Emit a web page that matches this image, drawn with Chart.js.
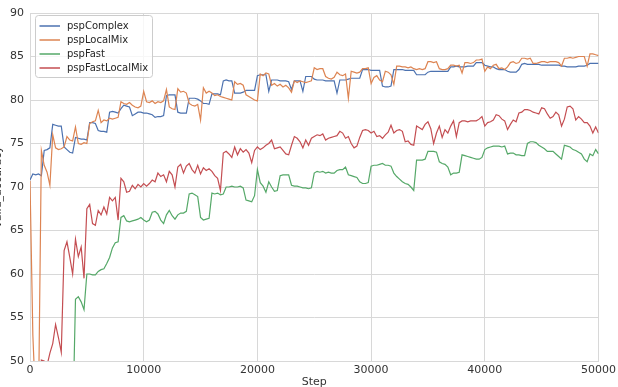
<!DOCTYPE html>
<html>
<head>
<meta charset="utf-8">
<script src="https://cdn.jsdelivr.net/npm/chart.js@4.4.1/dist/chart.umd.min.js"></script>
<style>
html,body{margin:0;padding:0;background:#fff}
#wrap{position:relative;width:618px;height:387px;overflow:hidden}
#c{position:absolute;left:-10px;top:0}
</style>
</head>
<body>
<div id="wrap"><canvas id="c" width="629" height="389" style="width:629px;height:389px"></canvas></div>
<script>
const steps=[
0,250,500,750,1000,1250,1500,1750,2000,2250,2500,2750,3000,3250,3500,3750,4000,4250,4500,4750,
5000,5250,5500,5750,6000,6250,6500,6750,7000,7250,7500,7750,8000,8250,8500,8750,9000,9250,9500,9750,
10000,10250,10500,10750,11000,11250,11500,11750,12000,12250,12500,12750,13000,13250,13500,13750,14000,14250,14500,14750,
15000,15250,15500,15750,16000,16250,16500,16750,17000,17250,17500,17750,18000,18250,18500,18750,19000,19250,19500,19750,
20000,20250,20500,20750,21000,21250,21500,21750,22000,22250,22500,22750,23000,23250,23500,23750,24000,24250,24500,24750,
25000,25250,25500,25750,26000,26250,26500,26750,27000,27250,27500,27750,28000,28250,28500,28750,29000,29250,29500,29750,
30000,30250,30500,30750,31000,31250,31500,31750,32000,32250,32500,32750,33000,33250,33500,33750,34000,34250,34500,34750,
35000,35250,35500,35750,36000,36250,36500,36750,37000,37250,37500,37750,38000,38250,38500,38750,39000,39250,39500,39750,
40000,40250,40500,40750,41000,41250,41500,41750,42000,42250,42500,42750,43000,43250,43500,43750,44000,44250,44500,44750,
45000,45250,45500,45750,46000,46250,46500,46750,47000,47250,47500,47750,48000,48250,48500,48750,49000,49250,49500,49750,
50000]

const pspComplex=[
70.8,71.5,71.4,71.5,71.3,74.2,74.3,74.5,77.2,77.1,77.0,77.0,74.6,74.3,74.0,73.9,75.7,75.6,75.5,75.5,
75.4,77.4,77.4,77.3,76.5,76.4,76.4,76.3,78.6,78.7,78.6,78.5,79.0,79.4,79.3,79.2,78.2,78.4,78.6,78.6,
78.5,78.5,78.4,78.3,78.0,78.1,78.1,78.2,80.5,80.6,80.6,80.6,78.6,78.5,78.5,78.5,80.2,80.2,80.2,80.1,
79.9,79.6,79.6,79.5,80.7,80.7,80.7,80.6,82.2,82.3,82.2,82.2,80.8,80.8,80.8,80.9,81.1,81.1,81.1,81.1,
82.8,82.9,82.9,82.9,81.0,82.3,82.3,82.3,82.2,82.2,82.2,82.1,81.2,82.2,82.2,82.2,81.0,82.7,82.7,82.7,
82.4,82.3,82.3,82.3,82.2,82.2,82.2,82.2,80.8,82.3,82.3,82.3,82.4,82.5,82.5,82.5,82.5,83.5,83.5,83.5,
83.4,83.4,83.4,83.4,81.6,81.5,81.5,81.6,83.5,83.5,83.5,83.5,83.4,83.4,83.4,83.4,82.9,82.9,82.9,82.9,
83.2,83.3,83.3,83.3,83.3,83.3,83.3,83.3,83.8,83.8,83.9,83.8,83.8,83.8,83.9,83.9,83.9,84.3,84.3,84.3,
84.0,83.9,83.8,83.8,83.6,83.5,83.5,83.5,83.3,83.2,83.2,83.2,83.5,84.1,84.2,84.1,84.1,84.1,84.1,84.1,
84.0,84.0,84.0,84.0,84.0,84.0,84.0,83.9,83.9,83.8,83.8,83.8,83.8,83.9,83.9,83.9,84.0,84.2,84.2,84.2,
84.2]

const pspLocalMix=[
70.7,53.0,45.0,45.0,74.2,72.5,71.7,70.2,76.0,74.5,74.3,74.4,74.6,75.8,75.4,75.3,76.9,75.0,74.9,75.1,
75.0,77.3,77.5,77.6,78.8,77.4,77.7,77.6,77.9,77.8,77.9,78.0,79.8,79.6,79.5,79.7,79.4,79.2,79.1,79.3,
81.0,79.8,79.7,79.9,79.6,79.8,79.7,79.9,81.2,79.2,79.0,78.9,81.3,80.9,81.0,80.8,79.6,79.4,79.3,79.5,
77.7,81.4,80.8,81.0,80.8,80.5,80.6,80.4,80.3,80.2,80.1,80.0,82.1,81.8,81.9,81.7,80.6,80.4,80.2,80.0,
79.9,83.0,82.8,83.1,83.0,81.7,81.9,81.6,81.8,81.5,81.7,81.4,80.9,82.2,82.0,82.2,82.1,82.0,82.1,82.2,
83.7,83.5,83.6,83.6,82.7,82.5,82.4,82.6,83.2,82.9,82.8,83.0,80.2,83.3,83.2,83.1,83.2,83.6,83.6,83.7,
81.9,82.6,82.8,82.3,82.1,83.3,83.2,82.9,81.8,83.9,83.9,83.8,83.8,83.7,83.8,83.6,83.5,83.6,83.5,83.6,
84.4,84.4,84.3,84.4,83.6,83.5,83.5,83.6,84.0,84.0,83.9,84.0,83.1,84.3,84.3,84.2,84.3,84.6,84.6,84.7,
83.3,83.8,83.6,84.0,84.1,83.6,83.7,83.5,83.8,84.3,84.4,84.2,84.3,84.8,84.8,84.7,84.8,84.2,84.2,84.3,
84.4,84.4,84.3,84.4,84.4,84.4,84.3,83.9,84.8,84.8,84.9,84.8,84.9,85.0,85.0,85.0,83.9,85.3,85.3,85.2,
85.1]

const pspFast=[
40,40,40,40,40,40,40,40,40,40,40,40,40,40,40,42,57.1,57.4,56.8,55.9,
60.0,60.0,59.9,59.9,60.3,60.5,60.6,61.2,61.9,63.0,63.6,63.7,66.5,66.7,66.1,66.0,66.1,66.2,66.3,66.5,
66.2,66.0,66.2,67.1,67.2,66.9,66.2,65.8,66.8,67.3,66.7,66.3,66.8,67.0,67.0,67.2,69.2,69.3,69.1,68.9,
66.5,66.2,66.3,66.4,69.3,69.2,69.3,69.1,69.2,70.0,70.0,70.1,70.0,70.0,70.1,69.9,68.5,68.4,68.3,69.0,
72.0,70.5,70.1,69.4,70.6,70.0,69.5,69.6,71.3,71.4,71.4,71.4,70.2,70.1,70.1,70.0,69.9,69.9,69.8,69.9,
71.6,71.8,71.7,71.8,71.6,71.7,71.6,71.6,71.9,72.0,72.0,72.3,71.4,71.3,71.2,71.1,70.6,70.4,70.4,70.5,
72.4,72.5,72.5,72.6,72.7,72.5,72.5,72.4,71.6,71.2,70.9,70.6,70.4,70.3,70.0,69.6,73.1,73.1,73.1,73.2,
74.1,74.1,74.1,74.0,72.9,72.7,72.6,72.3,71.4,71.6,71.6,71.7,73.7,73.6,73.5,73.4,73.3,73.2,73.2,73.4,
74.3,74.5,74.6,74.7,74.7,74.7,74.6,74.7,73.8,73.9,73.9,73.7,73.7,73.6,73.6,75.0,75.2,75.2,75.1,74.8,
74.6,74.4,74.1,74.1,74.1,73.8,73.5,73.2,74.8,74.7,74.6,74.3,74.2,74.0,73.8,73.2,72.9,73.8,73.6,74.3,
73.8]

const pspFastLocalMix=[
40,40,40,45,50.1,50.0,49.5,50.9,52.0,54.2,52.7,51.0,62.7,63.7,61.9,60.0,64.0,62.0,63.1,59.5,
67.5,68.0,65.8,65.6,67.3,66.8,67.7,66.9,68.8,68.4,68.8,66.2,71.0,70.6,69.4,69.5,70.2,69.8,70.3,70.0,
70.4,70.1,70.4,70.8,70.6,71.6,71.2,71.4,70.6,71.8,71.4,70.0,72.3,72.6,71.6,72.4,72.7,72.0,71.6,72.5,
71.5,72.2,71.9,72.1,71.8,71.3,71.0,69.6,73.9,74.1,73.8,73.4,74.6,73.7,74.4,74.0,74.3,73.9,72.8,74.2,
74.6,74.3,74.5,74.8,75.0,75.4,74.4,74.5,74.6,74.2,73.8,73.7,74.8,75.8,75.6,75.2,74.5,75.4,74.8,75.6,
75.8,76.0,75.9,76.1,75.4,75.6,75.7,75.8,75.9,76.4,76.2,75.6,75.8,75.0,74.5,74.7,75.7,76.5,76.6,76.5,
76.2,76.4,75.8,75.9,75.6,76.0,76.3,77.1,76.2,76.5,76.6,76.4,75.2,75.3,74.9,74.8,77.0,76.8,76.6,77.2,
77.5,76.7,75.0,76.2,77.0,75.7,76.6,76.2,77.0,77.6,75.8,77.4,77.6,77.6,77.5,77.6,77.6,77.6,77.8,78.1,
77.0,77.4,77.5,77.7,78.3,78.2,77.8,77.6,76.6,77.2,77.7,77.5,78.5,78.6,78.9,78.9,78.8,78.6,78.5,78.4,
79.1,79.0,78.4,77.9,78.1,78.6,78.3,77.0,77.8,79.2,79.3,79.0,77.7,78.1,77.8,77.4,77.4,77.0,76.2,76.9,
76.2]

const seriesNames=["pspComplex","pspLocalMix","pspFast","pspFastLocalMix"]
const seriesData=[pspComplex,pspLocalMix,pspFast,pspFastLocalMix]
const colors=["#4c72b0","#dd8452","#55a868","#c44e52"]
const yTicks=[50,55,60,65,70,75,80,85,90]
const xTicks=[0,10000,20000,30000,40000,50000]

const gridColor="#d8d8d8"
const tickColor="#333333"
const font='"DejaVu Sans"'

// legend drawn inside the plot, matplotlib style
const boxLegend={
id:"boxLegend",
afterDraw(chart){
const {ctx,chartArea:a}=chart
const x=a.left+5,y=a.top+2,w=117,h=62
ctx.save()
ctx.beginPath()
ctx.roundRect(x+.5,y+.5,w,h,3)
ctx.fillStyle="rgba(255,255,255,0.8)"
ctx.fill()
ctx.strokeStyle="#cccccc"
ctx.lineWidth=1
ctx.stroke()
ctx.font="10px "+font
ctx.textBaseline="middle"
chart.data.datasets.forEach((ds,i)=>{
const cy=y+11+i*14
ctx.strokeStyle=ds.borderColor
ctx.lineWidth=1.5
ctx.beginPath()
ctx.moveTo(x+4.5,cy)
ctx.lineTo(x+25,cy)
ctx.stroke()
ctx.fillStyle="#262626"
ctx.fillText(ds.label,x+32,cy)
})
ctx.restore()
}
}

new Chart(document.getElementById("c"),{
type:"line",
data:{datasets:seriesNames.map((name,i)=>({
label:name,
data:steps.map((s,j)=>({x:s,y:seriesData[i][j]})),
borderColor:colors[i],
backgroundColor:colors[i],
borderWidth:1.2,
pointRadius:0,
tension:0,
order:4-i
}))},
options:{
responsive:false,
animation:false,
layout:{padding:{left:0,right:18,top:13,bottom:0}},
plugins:{legend:{display:false},tooltip:{enabled:false}},
scales:{
x:{
type:"linear",min:0,max:50000,
afterBuildTicks:s=>{s.ticks=xTicks.map(v=>({value:v}))},
afterFit:s=>{s.height=28},
grid:{color:gridColor,drawTicks:false},
border:{color:gridColor},
ticks:{padding:3,color:tickColor,font:{family:font,size:11},callback:v=>String(v),maxRotation:0},
title:{display:true,text:"Step",color:tickColor,font:{family:font,size:11},padding:{top:0,bottom:0}}
},
y:{
min:50,max:90,
afterBuildTicks:s=>{s.ticks=yTicks.map(v=>({value:v}))},
afterFit:s=>{s.width=40},
grid:{color:gridColor,drawTicks:false},
border:{color:gridColor},
ticks:{padding:6,color:tickColor,font:{family:font,size:11}},
title:{display:true,text:"valid_accuracy",color:tickColor,font:{family:font,size:11},padding:{top:1.6,bottom:0}}
}
}
},
plugins:[boxLegend]
})
</script>
</body>
</html>
